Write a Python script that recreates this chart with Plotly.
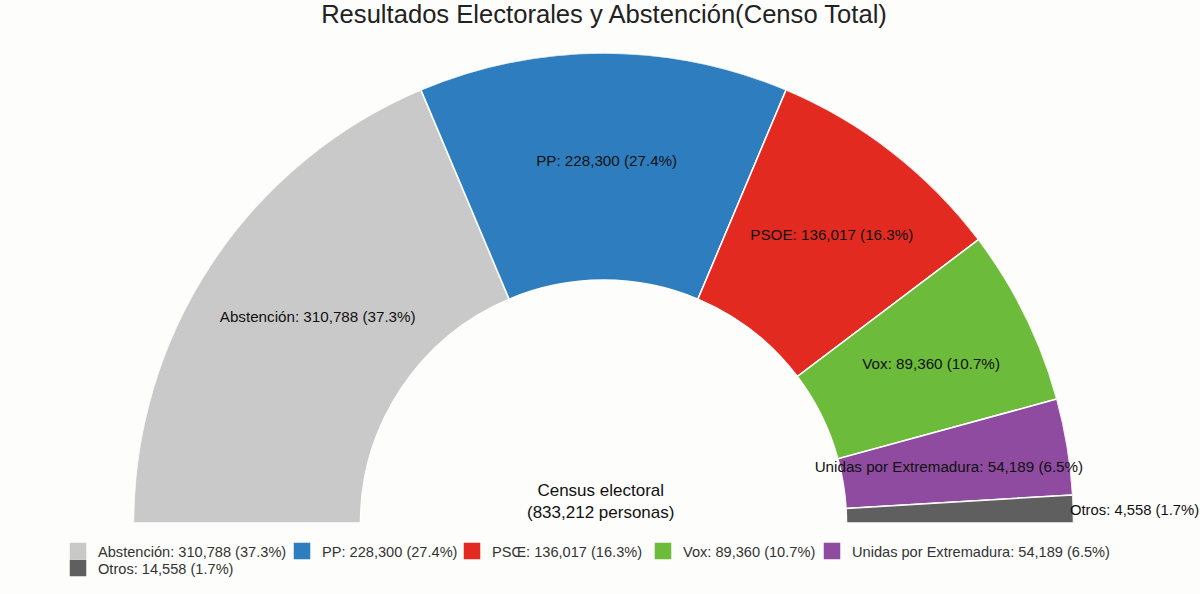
import plotly.graph_objects as go

# Categories and the numbers printed on the chart
categories = ["Abstención", "PP", "PSOE", "Vox", "Unidas por Extremadura", "Otros"]
votes = [310788, 228300, 136017, 89360, 54189, 14558]
percent = [37.3, 27.4, 16.3, 10.7, 6.5, 1.7]
# Share of the half ring as it is actually drawn in the picture (%)
arc_share = [37.3, 25.4, 16.7, 12.1, 6.6, 1.9]

slice_labels = [
    "Abstención: 310,788 (37.3%)", "PP: 228,300 (27.4%)", "PSOE: 136,017 (16.3%)",
    "Vox: 89,360 (10.7%)", "Unidas por Extremadura: 54,189 (6.5%)",
]
outside_label = "Otros: 4,558 (1.7%)"
legend_labels = [
    "Abstención: 310,788 (37.3%)", "PP: 228,300 (27.4%)", "PSŒ: 136,017 (16.3%)",
    "Vox: 89,360 (10.7%)", "Unidas por Extremadura: 54,189 (6.5%)", "Otros: 14,558 (1.7%)",
]
legend_slots = ["legend", "legend2", "legend3", "legend4", "legend5", "legend6"]
legend_x_px = [58, 282, 452, 643, 812, 58]
legend_y_px = [535, 535, 535, 535, 535, 552]
colors = ["#C9C9C9", "#2E7EBF", "#E32A20", "#6DBB3B", "#8E4B9F", "#5F5F5F"]
label_radius = [351.5, 361, 366.8, 363.6, 349.7]
label_theta = [144.4, 89.5, 51.5, 25.7, 9.0]

W, H = 1200, 594
CX, BOTTOM, R, INNER = 603.5, 523, 470, 243

fig = go.Figure()
start = 0.0
mids = []
for name, col, share in zip(categories, colors, arc_share):
    span = share / 100 * 180
    mid = 180 - (start + span / 2)
    mids.append(mid)
    fig.add_trace(go.Barpolar(
        r=[R - INNER], base=[INNER], theta=[mid], width=[span], name=name,
        marker=dict(color=col, line=dict(color="#FFFFFF", width=1.5)),
        hoverinfo="name", showlegend=False,
    ))
    start += span

# Zero-height bars that only carry the legend keys (thick outline gives the larger swatch)
for lab, col, slot, mid in zip(legend_labels, colors, legend_slots, mids):
    fig.add_trace(go.Barpolar(
        r=[0], base=[INNER], theta=[mid], width=[0], name=lab, legend=slot,
        marker=dict(color=col, line=dict(color=col, width=4.5)), hoverinfo="skip",
    ))

fig.add_trace(go.Scatterpolar(
    r=label_radius, theta=label_theta, text=slice_labels, mode="text", showlegend=False,
    textposition="middle center", cliponaxis=False,
    textfont=dict(family="Liberation Sans", size=15.2, color="#111111"), hoverinfo="skip",
))

legend_common = dict(orientation="h", xanchor="left", yanchor="top",
                     bgcolor="rgba(0,0,0,0)", font=dict(size=14.6, color="#333333"),
                     traceorder="normal")
legends = {slot: dict(x=x / W, y=1 - y / H, **legend_common)
           for slot, x, y in zip(legend_slots, legend_x_px, legend_y_px)}

fig.update_layout(
    width=W, height=H, autosize=False,
    margin=dict(l=0, r=0, t=0, b=0),
    paper_bgcolor="#FDFDFB",
    font=dict(family="Liberation Sans", color="#111111"),
    title=dict(text="Resultados Electorales y Abstención(Censo Total)",
               x=604 / W, xanchor="center", y=1 - 14 / H, yanchor="middle",
               font=dict(size=25.6, color="#222222")),
    polar=dict(
        domain=dict(x=[(CX - R) / W, (CX + R) / W], y=[1 - BOTTOM / H, 1 - (BOTTOM - R) / H]),
        sector=[0, 180], bgcolor="rgba(0,0,0,0)",
        radialaxis=dict(visible=False, range=[0, R]),
        angularaxis=dict(visible=False, rotation=0, direction="counterclockwise"),
    ),
    bargap=0,
    annotations=[
        dict(text="Census electoral<br>(833,212 personas)", xref="paper", yref="paper",
             x=600 / W, y=1 - 501.5 / H, yanchor="middle", showarrow=False, align="center",
             font=dict(size=17, color="#111111")),
        dict(text=outside_label, xref="paper", yref="paper",
             x=1134.5 / W, y=1 - 510 / H, yanchor="middle", xanchor="center", showarrow=False,
             font=dict(size=14.8, color="#111111")),
    ],
    **legends,
)
fig.write_html("out.html", config={"displayModeBar": False},
               post_script="document.body.style.margin='0';document.body.style.background='#FDFDFB';")
